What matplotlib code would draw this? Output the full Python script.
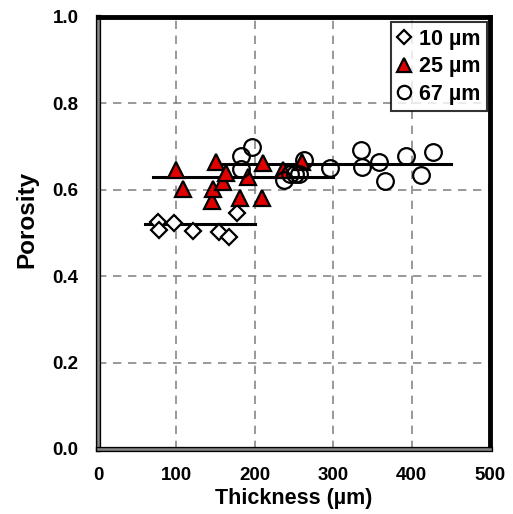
import matplotlib
matplotlib.use("Agg")
import matplotlib.pyplot as plt
import matplotlib.patheffects as pe

plt.rcParams['font.family'] = ['Liberation Sans', 'DejaVu Sans']
plt.rcParams['font.weight'] = 'bold'

# Porosity vs. thickness for three particle sizes
d10_x = [77, 78, 97, 121, 155, 167, 177]
d10_y = [0.526, 0.508, 0.522, 0.505, 0.502, 0.491, 0.546]

d25_x = [99, 108, 146, 147, 151, 160, 163, 181, 191, 209, 211, 236, 260]
d25_y = [0.646, 0.601, 0.573, 0.601, 0.664, 0.619, 0.638, 0.582, 0.630,
         0.580, 0.661, 0.645, 0.665]

d67_x = [183, 183, 197, 237, 245, 251, 257, 263, 296, 336, 337, 359, 366,
         393, 412, 427]
d67_y = [0.647, 0.678, 0.700, 0.622, 0.636, 0.636, 0.636, 0.669, 0.651,
         0.692, 0.653, 0.664, 0.620, 0.679, 0.634, 0.688]

# Mean porosity lines: (x start, x end, level)
mean10 = (60, 200, 0.52)
mean25 = (70, 300, 0.63)
mean67 = (160, 450, 0.66)

labels = ["10 µm", "25 µm", "67 µm"]

fig = plt.figure(figsize=(5.13, 5.14), dpi=100)
ax = fig.add_axes([0.191, 0.1265, 0.764, 0.8405])

for x0, x1, yv in (mean10, mean25, mean67):
    ax.plot([x0, x1], [yv, yv], color='black', lw=2.2, zorder=3)

ax.plot(d10_x, d10_y, linestyle='none', marker='D', ms=8.5, mfc='white',
        mec='black', mew=1.6, label=labels[0], zorder=4)
ax.plot(d25_x, d25_y, linestyle='none', marker='^', ms=12, mfc='#e00000',
        mec='black', mew=1.6, label=labels[1], zorder=4)
ax.plot(d67_x, d67_y, linestyle='none', marker='o', ms=12, mfc='none',
        mec='black', mew=1.6, label=labels[2], zorder=5)

ax.set_xlim(0, 500)
ax.set_ylim(0, 1.0)
ax.set_xticks([0, 100, 200, 300, 400, 500])
ax.set_yticks([0.0, 0.2, 0.4, 0.6, 0.8, 1.0])
ax.set_yticklabels([f"{v:.1f}" for v in ax.get_yticks()])
ax.tick_params(axis='x', length=0, labelsize=13.5, pad=13)
ax.tick_params(axis='y', length=0, labelsize=13.5, pad=14)
for t in ax.get_xticklabels() + ax.get_yticklabels():
    t.set_fontweight('bold')

ax.grid(True, color='#888888', linestyle=(0, (5, 4)), lw=1.2)
ax.set_axisbelow(True)

ax.set_xlabel("Thickness (µm)", fontsize=15.5, fontweight='bold', labelpad=3)
ax.set_ylabel("Porosity", fontsize=17.5, fontweight='bold')
ax.yaxis.set_label_coords(-0.153, 0.532)

for side in ('top', 'right'):
    ax.spines[side].set_linewidth(3.5)
    ax.spines[side].set_color('black')
for side in ('left', 'bottom'):
    ax.spines[side].set_linewidth(1.8)
    ax.spines[side].set_color('#888888')
    ax.spines[side].set_path_effects([pe.Stroke(linewidth=3.8, foreground='black'),
                                      pe.Normal()])

leg = ax.legend(loc='upper right', bbox_to_anchor=(0.993, 0.988), fontsize=15.5,
                frameon=True, fancybox=False, edgecolor='black',
                handlelength=0.6, handletextpad=0.4, borderpad=0.3,
                labelspacing=0.3, borderaxespad=0.0, markerscale=0.8)
leg.get_frame().set_linewidth(1.5)
for t in leg.get_texts():
    t.set_fontweight('bold')

fig.savefig("out.png", dpi=100)
